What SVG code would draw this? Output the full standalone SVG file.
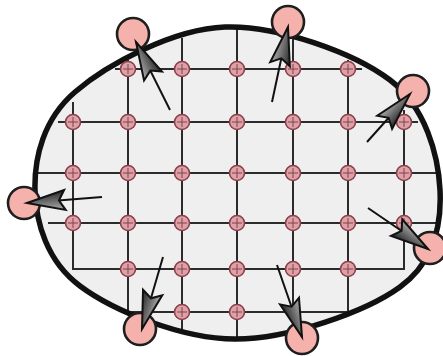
<svg xmlns="http://www.w3.org/2000/svg" xmlns:xlink="http://www.w3.org/1999/xlink" width="443" height="356" viewBox="0 0 443 356">
<style>
.grid line{stroke:#2b2b2b;stroke-width:2;stroke-linecap:butt}
.sc circle{fill:#dda2a7;stroke:#8a3f4b;stroke-width:1.6}
.sc path{stroke:#8a3f4b;stroke-width:1;fill:none}
.big{fill:#f5b1ab;stroke:#1e1e1e;stroke-width:2.6}
.arr line{stroke:#111;stroke-width:2;marker-end:url(#ah)}
</style>
<defs>
<linearGradient id="hg" x1="0" y1="0" x2="0" y2="1">
<stop offset="0" stop-color="#b0b0b0"/>
<stop offset="1" stop-color="#262626"/>
</linearGradient>
<marker id="ah" markerUnits="userSpaceOnUse" markerWidth="50" markerHeight="30" viewBox="-45 -15 50 30" refX="0" refY="0" orient="auto" overflow="visible">
<path d="M0,0 L-38,-10 L-32,0 L-38,10 Z" fill="url(#hg)" stroke="#111" stroke-width="2" stroke-linejoin="miter"/>
</marker>
<g id="sc" class="sc"><circle r="7.5"/><path d="M-5,0H5M0,-5V5"/></g>
</defs>
<path id="region" d="M35,190 C34.2,157.7 43.3,119.2 75,92 C106.7,64.8 172.5,29 225,27 C277.5,25 354.2,52.8 390,80 C425.8,107.2 438.3,155.5 440,190 C441.7,224.5 434.2,262.2 400,287 C365.8,311.8 288.3,339.2 235,339 C181.7,338.8 113.3,310.8 80,286 C46.7,261.2 35.8,222.3 35,190 Z" fill="#efefef" stroke="none"/>
<g class="grid" id="grid">
<line x1="73" y1="102" x2="73" y2="270"/>
<line x1="128" y1="60" x2="128" y2="313"/>
<line x1="182" y1="38" x2="182" y2="334"/>
<line x1="237" y1="28" x2="237" y2="338"/>
<line x1="293" y1="32" x2="293" y2="334"/>
<line x1="348" y1="60" x2="348" y2="313"/>
<line x1="404" y1="110" x2="404" y2="270"/>
<line x1="115" y1="69" x2="362" y2="69"/>
<line x1="58" y1="122" x2="418" y2="122"/>
<line x1="37" y1="173" x2="438" y2="173"/>
<line x1="48" y1="223" x2="436" y2="223"/>
<line x1="73" y1="269" x2="404" y2="269"/>
<line x1="128" y1="312" x2="348" y2="312"/>
</g>
<path d="M35,190 C34.2,157.7 43.3,119.2 75,92 C106.7,64.8 172.5,29 225,27 C277.5,25 354.2,52.8 390,80 C425.8,107.2 438.3,155.5 440,190 C441.7,224.5 434.2,262.2 400,287 C365.8,311.8 288.3,339.2 235,339 C181.7,338.8 113.3,310.8 80,286 C46.7,261.2 35.8,222.3 35,190 Z" fill="none" stroke="#111" stroke-width="5.5"/>
<g id="grid-points">
<use href="#sc" x="128" y="69"/><use href="#sc" x="182" y="69"/><use href="#sc" x="237" y="69"/><use href="#sc" x="293" y="69"/><use href="#sc" x="348" y="69"/>
<use href="#sc" x="73" y="122"/><use href="#sc" x="128" y="122"/><use href="#sc" x="182" y="122"/><use href="#sc" x="237" y="122"/><use href="#sc" x="293" y="122"/><use href="#sc" x="348" y="122"/><use href="#sc" x="404" y="122"/>
<use href="#sc" x="73" y="173"/><use href="#sc" x="128" y="173"/><use href="#sc" x="182" y="173"/><use href="#sc" x="237" y="173"/><use href="#sc" x="293" y="173"/><use href="#sc" x="348" y="173"/><use href="#sc" x="404" y="173"/>
<use href="#sc" x="73" y="223"/><use href="#sc" x="128" y="223"/><use href="#sc" x="182" y="223"/><use href="#sc" x="237" y="223"/><use href="#sc" x="293" y="223"/><use href="#sc" x="348" y="223"/><use href="#sc" x="404" y="223"/>
<use href="#sc" x="128" y="269"/><use href="#sc" x="182" y="269"/><use href="#sc" x="237" y="269"/><use href="#sc" x="293" y="269"/><use href="#sc" x="348" y="269"/>
<use href="#sc" x="182" y="312"/><use href="#sc" x="237" y="312"/>
</g>
<g id="b1"><circle class="big" cx="133" cy="34" r="16"/></g>
<g id="b2"><circle class="big" cx="288" cy="22" r="16"/></g>
<g id="b3"><circle class="big" cx="413" cy="91" r="16"/></g>
<g id="b4"><circle class="big" cx="24" cy="203" r="16"/></g>
<g id="b5"><circle class="big" cx="430" cy="248" r="16"/></g>
<g id="b6"><circle class="big" cx="140" cy="329" r="16"/></g>
<g id="b7"><circle class="big" cx="302" cy="338" r="16"/></g>
<g id="connectors" class="arr">
<line x1="170" y1="110" x2="136" y2="42"/>
<line x1="272" y1="102" x2="288" y2="27"/>
<line x1="367" y1="142" x2="410" y2="94"/>
<line x1="102" y1="197" x2="27" y2="203"/>
<line x1="368" y1="208" x2="428" y2="249"/>
<line x1="163" y1="257" x2="142" y2="329"/>
<line x1="277" y1="265" x2="302" y2="337"/>
</g>
</svg>
